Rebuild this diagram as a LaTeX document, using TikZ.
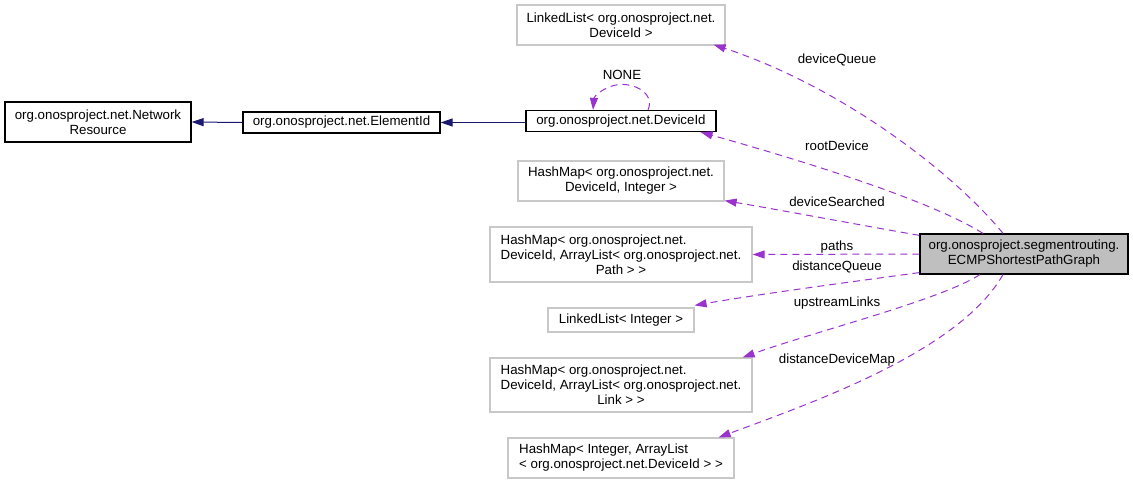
\documentclass[tikz,border=0pt]{standalone}
\usepackage{fontspec}
\setmainfont{Liberation Sans}
\usepackage{calc}
\usetikzlibrary{arrows.meta,calc}
\definecolor{edgepurple}{HTML}{9A32CD}
\definecolor{edgeblue}{HTML}{191970}
\definecolor{boxgray}{HTML}{C8C8C8}
\definecolor{fillgray}{HTML}{BFBFBF}
\newcommand{\lj}[2]{\makebox[\widthof{#2}][l]{#1}}
\begin{document}
\begin{tikzpicture}[x=1pt,y=-1pt,
  every node/.style={font=\fontsize{13.3}{15}\selectfont},
  cls/.style={draw=black,line width=1.2pt,fill=white,inner sep=0pt,align=center},
  ext/.style={draw=boxgray,line width=1.2pt,fill=white,inner sep=0pt,align=center},
  inherit/.style={draw=edgeblue,line width=1pt,-{Triangle[length=12pt,width=8pt]}},
  member/.style={draw=edgepurple,line width=1pt,dash pattern=on 7pt off 5pt,-{Triangle[length=12pt,width=8pt]}},
  lbl/.style={inner sep=1pt}]
\useasboundingbox (0,0) rectangle (1133,484);

% nodes
\node[cls,minimum width=186pt,minimum height=40pt] (nr) at (98,122)
  {\lj{org.onosproject.net.Network}{org.onosproject.net.Network}\\Resource};
\node[cls,minimum width=197pt,minimum height=21pt] (eid) at (341.5,122.5)
  {org.onosproject.net.ElementId};
\node[cls,minimum width=190pt,minimum height=21pt] (did) at (621,121)
  {org.onosproject.net.DeviceId};
\node[ext,minimum width=208pt,minimum height=40pt] (ll1) at (621,25)
  {LinkedList< org.onosproject.net.\\DeviceId >};
\node[ext,minimum width=206pt,minimum height=40pt] (hm1) at (621,181)
  {HashMap< org.onosproject.net.\\DeviceId, Integer >};
\node[ext,minimum width=262pt,minimum height=55pt] (hm2) at (621,254.5)
  {\lj{HashMap< org.onosproject.net.}{DeviceId, ArrayList< org.onosproject.net.}\\DeviceId, ArrayList< org.onosproject.net.\\Path > >};
\node[ext,minimum width=146pt,minimum height=24pt] (ll2) at (621,320)
  {LinkedList< Integer >};
\node[ext,minimum width=262pt,minimum height=54pt] (hm3) at (621,385)
  {\lj{HashMap< org.onosproject.net.}{DeviceId, ArrayList< org.onosproject.net.}\\DeviceId, ArrayList< org.onosproject.net.\\Link > >};
\node[ext,minimum width=226pt,minimum height=40pt] (hm4) at (621,458)
  {\lj{HashMap< Integer, ArrayList}{< org.onosproject.net.DeviceId > >}\\< org.onosproject.net.DeviceId > >};
\node[cls,fill=fillgray,minimum width=208pt,minimum height=40pt] (ecmp) at (1024,254)
  {org.onosproject.segmentrouting.\\ECMPShortestPathGraph};

% inheritance
\draw[inherit] (eid.west) -- (nr.east);
\draw[inherit] (did.west |- eid.east) -- (eid.east);

% self loop
\draw[member] ($(did.north)+(27,0)$) .. controls (656,92) and (630,80) .. (612,86)
   .. controls (600,90) and (594,97) .. ($(did.north)+(-28,0)$);
\node[lbl] (lnone) at (622,75) {NONE};

% members
\draw[member] ($(ecmp.north)+(-21,0)$) .. controls (960,180) and (850,90) .. ($(ll1.south east)+(-12,-1)$);
\node[lbl] (ldq) at (837,60) {deviceQueue};

\draw[member] ($(ecmp.north)+(-41,0)$) .. controls (930,200) and (800,160) .. ($(did.south east)+(-16,0)$);
\node[lbl] (lrd) at (837,146) {rootDevice};

\draw[member] ($(ecmp.north west)+(0,2)$) .. controls (860,225) and (780,210) .. ($(hm1.south east)+(0,-1)$);
\node[lbl] (lds) at (837,202) {deviceSearched};

\draw[member] (ecmp.west) -- (hm2.east);
\node[lbl] (lp) at (837,247) {paths};

\draw[member] ($(ecmp.south west)+(0,-2)$) .. controls (850,282) and (760,294) .. ($(ll2.north east)+(0,-2)$);
\node[lbl] (ldqq) at (837,267) {distanceQueue};

\draw[member] ($(ecmp.south)+(-44,0)$) .. controls (940,300) and (820,330) .. ($(hm3.north east)+(-10,0)$);
\node[lbl] (lul) at (837,303) {upstreamLinks};

\draw[member] ($(ecmp.south)+(-21,0)$) .. controls (960,350) and (820,400) .. ($(hm4.north east)+(-16,0)$);
\node[lbl] (lddm) at (837,360) {distanceDeviceMap};
\end{tikzpicture}
\end{document}
